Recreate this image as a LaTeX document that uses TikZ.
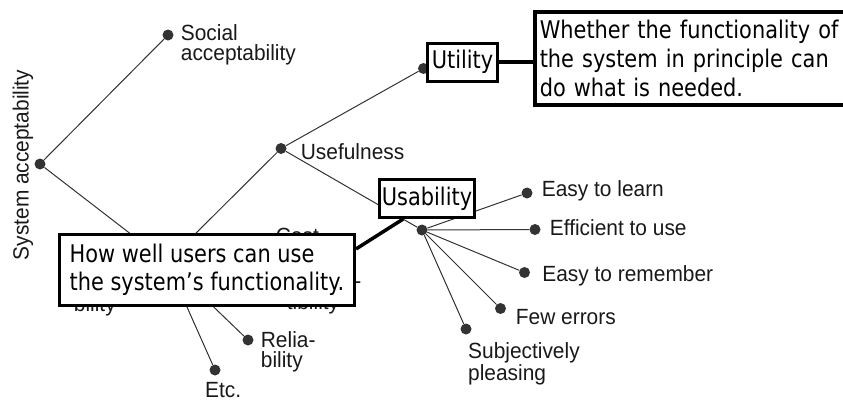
\documentclass[tikz,border=0pt]{standalone}
\usepackage{fontspec}
\setmainfont[FakeStretch=0.95]{Liberation Sans}
\newfontfamily\notefont[FakeStretch=0.86]{DejaVu Sans}
\usetikzlibrary{positioning}
\tikzstyle{joint} = [circle, fill=black!80, inner sep=0pt, minimum size=11pt]
\tikzstyle{branch} = [black!80, line width=1pt]
\tikzstyle{crit} = [black!90, inner sep=0pt, align=left, font=\fontsize{22}{20.5}\selectfont]
\tikzstyle{note} = [draw=black, fill=white, line width=3pt, inner sep=0pt, font=\notefont\fontsize{24.3}{29}\selectfont]
\tikzstyle{link} = [line width=3.5pt]

\begin{document}
\begin{tikzpicture}[x=1pt,y=-1pt]
	\useasboundingbox (0,0) rectangle (843,400);
	\node (sys-acc) [joint] at (40,164) {};
	\node (soc-acc) [joint] at (168,35) {};
	\node (prac-acc) [joint] at (167,262) {};
	\node (usefulness) [joint] at (281,148.5) {};
	\node (utility) [joint] at (423.5,68.5) {};
	\node (usability) [joint] at (422,230) {};
	\node (cost) [joint] at (263,241) {};
	\node (compat) [joint] at (274,282) {};
	\node (reliability) [joint] at (248,340) {};
	\node (etc) [joint] at (215,370) {};
	\node (learn) [joint] at (527,193) {};
	\node (efficient) [joint] at (535,229.5) {};
	\node (remember) [joint] at (524.5,272.5) {};
	\node (errors) [joint] at (500.5,308.5) {};
	\node (pleasing) [joint] at (466,329) {};
	
	\draw [branch] (sys-acc) -- (soc-acc);
	\draw [branch] (sys-acc) -- (prac-acc);
	\draw [branch] (prac-acc) -- (usefulness);
	\draw [branch] (prac-acc) -- (cost);
	\draw [branch] (prac-acc) -- (compat);
	\draw [branch] (prac-acc) -- (reliability);
	\draw [branch] (prac-acc) -- (etc);
	\draw [branch] (usefulness) -- (utility);
	\draw [branch] (usefulness) -- (usability);
	\draw [branch] (usability) -- (learn);
	\draw [branch] (usability) -- (efficient);
	\draw [branch] (usability) -- (remember);
	\draw [branch] (usability) -- (errors);
	\draw [branch] (usability) -- (pleasing);
	
	\node (sys-acc-text) [crit, rotate=90] at (23,165) {System acceptability};
	\node (soc-acc-text) [crit, below right=-11pt and 7pt of soc-acc.east] {Social\\acceptability};
	\node (prac-acc-text) [crit, below left=-9pt and 7pt of prac-acc.west] {Practical\\accepta-\\bility};
	\node (usefulness-text) [crit, below right=-5.5pt and 14pt of usefulness.east] {Usefulness};
	\node (cost-text) [crit, below right=-12.7pt and 7pt of cost.east] {Cost};
	\node (compat-text) [crit, below right=-9.5pt and 7pt of compat.east] {Compa-\\tibility};
	\node (reliability-text) [crit, below right=-9pt and 7pt of reliability.east] {Relia-\\bility};
	\node (etc-text) [crit, below right=6pt and -10pt of etc.south] {Etc.};
	\node (learn-text) [crit, below right=-12.5pt and 9pt of learn.east] {Easy to learn};
	\node (efficient-text) [crit, below right=-10.5pt and 9pt of efficient.east] {Efficient to use};
	\node (remember-text) [crit, below right=-7.5pt and 12pt of remember.east] {Easy to remember};
	\node (errors-text) [crit, below right=1pt and 9.5pt of errors.east] {Few errors};
	\node (pleasing-text) [crit, below right=8pt and 2pt of pleasing.south] {Subjectively\\pleasing};
	
	% boxes laid over the tree
	\node (utility-box) [note, minimum width=70pt, minimum height=38pt] at (462.5,62.2) {Utility};
	\node (usability-box) [note, minimum width=95pt, minimum height=38.5pt] at (427,198.3) {Usability};
	\node (utility-note) [note, line width=3.5pt, inner sep=5pt, text width=310pt, align=left, minimum height=92.7pt, right=34pt of utility-box, yshift=3.7pt] {Whether the functionality of\\the system in principle can\\do what is needed.};
	\node (usability-note) [note, minimum width=295pt, minimum height=70.7pt, align=left, font=\notefont\fontsize{24.3}{28}\selectfont] at (207,269.9) {How well users can use\\the system’s functionality.};
	
	\draw [link] (utility-box.east) -- (utility-box.east -| utility-note.west);
	\draw [link] (usability-box.221) -- (usability-note.8);
\end{tikzpicture}
\end{document}
